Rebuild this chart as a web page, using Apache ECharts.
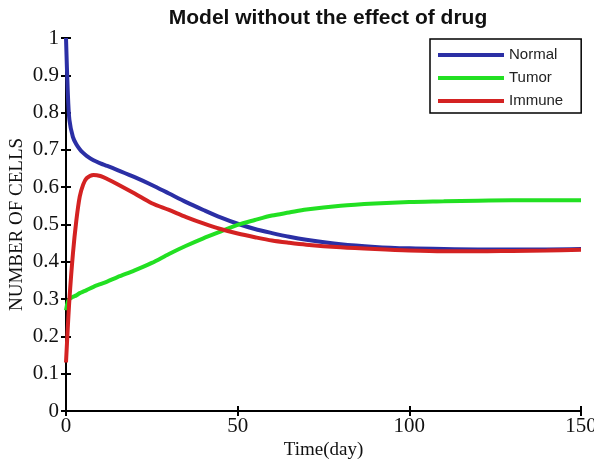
<!DOCTYPE html>
<html>
<head>
<meta charset="utf-8">
<script src="https://cdn.jsdelivr.net/npm/echarts@6/dist/echarts.min.js"></script>
<style>
  html, body { margin: 0; padding: 0; background: #fff; }
  #chart { width: 594px; height: 465px; }
</style>
</head>
<body>
<div id="chart"></div>
<script>
// Time points (days)
const days = [0, 0.5, 1, 2, 3, 4, 5, 6, 8, 10, 12, 15, 20, 25, 30, 35, 40, 45, 50, 55, 60, 65, 70, 80, 90, 100, 110, 120, 130, 140, 150];

// Cell populations over time
const normalCells = [1.0, 0.86, 0.78, 0.735, 0.715, 0.702, 0.692, 0.684, 0.672, 0.664, 0.657, 0.646, 0.627, 0.606, 0.583, 0.560, 0.539, 0.519, 0.502, 0.488, 0.477, 0.467, 0.459, 0.447, 0.440, 0.436, 0.434, 0.433, 0.433, 0.433, 0.434];
const tumorCells  = [0.27, 0.292, 0.300, 0.306, 0.310, 0.316, 0.320, 0.324, 0.333, 0.340, 0.347, 0.359, 0.377, 0.397, 0.421, 0.443, 0.463, 0.481, 0.499, 0.512, 0.524, 0.532, 0.540, 0.550, 0.556, 0.560, 0.562, 0.564, 0.565, 0.565, 0.565];
const immuneCells = [0.13, 0.22, 0.30, 0.42, 0.51, 0.575, 0.607, 0.624, 0.633, 0.630, 0.622, 0.608, 0.583, 0.557, 0.539, 0.520, 0.503, 0.488, 0.476, 0.466, 0.457, 0.451, 0.446, 0.439, 0.434, 0.430, 0.428, 0.428, 0.429, 0.430, 0.432];

const seriesNames = ['Normal', 'Tumor', 'Immune'];
const seriesColors = ['#2b2fa5', '#22e022', '#d42222'];

const toPairs = vals => days.map((d, i) => [d, vals[i]]);

const serif = 'Liberation Serif';
const axisLine = { show: true, lineStyle: { color: '#000', width: 2 } };
const axisTick = { show: true, inside: true, length: 5, lineStyle: { color: '#000', width: 2 } };

const chart = echarts.init(document.getElementById('chart'));
chart.setOption({
  backgroundColor: '#fff',
  animation: false,
  title: {
    text: 'Model without the effect of drug',
    left: 323,
    textAlign: 'center',
    top: 3,
    textStyle: { fontFamily: 'Liberation Sans', fontWeight: 'bold', fontSize: 21, color: '#111' }
  },
  legend: {
    orient: 'vertical',
    left: 430,
    top: 39,
    padding: [8, 18, 4, 8],
    itemWidth: 66,
    itemHeight: 4,
    itemGap: 7,
    icon: 'rect',
    borderColor: '#000',
    borderWidth: 1.5,
    backgroundColor: '#fff',
    textStyle: { fontFamily: 'Liberation Sans', fontSize: 15, lineHeight: 16, color: '#222' },
    data: seriesNames
  },
  // keep the plot frame at fixed pixel edges even when tick labels run to the canvas border
  grid: { left: 66, right: 13, top: 38, bottom: 54, containLabel: false, outerBoundsMode: 'none' },
  xAxis: [
    {
      type: 'value', min: 0, max: 150, interval: 50,
      name: 'Time(day)', nameLocation: 'middle', nameGap: 30, nameMoveOverlap: false,
      nameTextStyle: { fontFamily: serif, fontSize: 19, color: '#111' },
      axisLine, axisTick,
      axisLabel: { fontFamily: serif, fontSize: 21, color: '#111', margin: 5 },
      splitLine: { show: false }
    },
    {
      type: 'value', position: 'top', min: 0, max: 150, interval: 50,
      axisLine, axisTick, axisLabel: { show: false }, splitLine: { show: false }
    }
  ],
  yAxis: [
    {
      type: 'value', min: 0, max: 1, interval: 0.1,
      name: 'NUMBER OF CELLS', nameLocation: 'middle', nameGap: 39, nameMoveOverlap: false,
      nameTextStyle: { fontFamily: serif, fontSize: 19, color: '#111' },
      axisLine, axisTick,
      axisLabel: { fontFamily: serif, fontSize: 21, color: '#111', margin: 7 },
      splitLine: { show: false }
    },
    {
      type: 'value', position: 'right', min: 0, max: 1, interval: 0.1,
      axisLine, axisTick, axisLabel: { show: false }, splitLine: { show: false }
    }
  ],
  series: [normalCells, tumorCells, immuneCells].map((vals, i) => ({
    name: seriesNames[i],
    type: 'line',
    data: toPairs(vals),
    showSymbol: false,
    smooth: 0.3,
    color: seriesColors[i],
    lineStyle: { width: 4, color: seriesColors[i] }
  }))
});
</script>
</body>
</html>
